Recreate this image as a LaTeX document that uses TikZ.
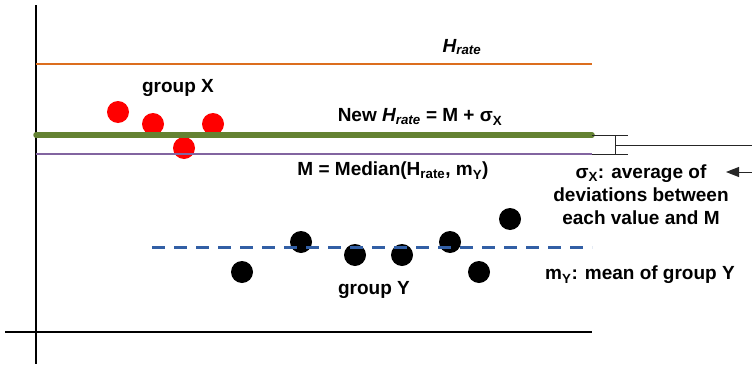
\documentclass[tikz,border=0pt]{standalone}
\usepackage{fontspec}
\setmainfont{Liberation Sans}
\usetikzlibrary{shapes.geometric,arrows.meta}
\definecolor{horange}{RGB}{220,110,30}
\definecolor{hgreen}{RGB}{100,130,50}
\definecolor{hpurple}{RGB}{130,100,160}
\definecolor{hblue}{RGB}{50,95,165}
\tikzset{
  lbl/.style={font=\fontsize{19}{22}\selectfont\bfseries, inner sep=0pt},
  reddot/.style={circle, fill=red, minimum size=22pt, inner sep=0pt},
  blackdot/.style={circle, fill=black, minimum size=22pt, inner sep=0pt},
  axis/.style={line width=1.4pt, black},
  brk/.style={line width=1pt, black!85}
}
\begin{document}
\begin{tikzpicture}[x=1pt,y=-1pt]
\useasboundingbox (0,0) rectangle (752,364);
% dots first (lines pass over them)
\node[reddot] (r1) at (118,112) {};
\node[reddot] (r2) at (153,124) {};
\node[reddot] (r3) at (213,124) {};
\node[reddot] (r4) at (184,148) {};
\node[blackdot] (k1) at (242,272) {};
\node[blackdot] (k2) at (301,242) {};
\node[blackdot] (k3) at (355,255) {};
\node[blackdot] (k4) at (402,255) {};
\node[blackdot] (k5) at (450,242) {};
\node[blackdot] (k6) at (479,272) {};
\node[blackdot] (k7) at (510,219) {};
% axes
\coordinate (vaT) at (36,5); \coordinate (vaB) at (36,364);
\coordinate (haL) at (5,332); \coordinate (haR) at (592,332);
\draw[axis] (vaT) -- (vaB);
\draw[axis] (haL) -- (haR);
% H_rate
\coordinate (hrL) at (36,64); \coordinate (hrR) at (592,64);
\draw[horange, line width=1.8pt] (hrL) -- (hrR);
\node[lbl] (hrlbl) at (462,47) {\itshape H\textsubscript{rate}};
% new Hrate (green) and median (purple)
\coordinate (gL) at (36,135); \coordinate (gR) at (592,135);
\coordinate (pL) at (36,154); \coordinate (pR) at (592,154);
\draw[hgreen, line width=5.5pt, line cap=round] (gL) -- (gR);
\draw[hpurple, line width=1.6pt] (pL) -- (pR);
\node[lbl] (newlbl) at (420,117) {New \textit{H\textsubscript{rate}} = M + σ\textsubscript{X}};
\node[lbl] (medlbl) at (393,171) {M = Median(H\textsubscript{rate}, m\textsubscript{Y})};
\node[lbl] (gx) at (178,88) {group X};
% bracket
\coordinate (b1) at (628,135); \coordinate (b2) at (628,154);
\coordinate (bv1) at (615,135); \coordinate (bv2) at (615,154);
\coordinate (bm) at (615,145); \coordinate (bE) at (752,145);
\draw[brk] (gR) -- (b1);
\draw[brk] (pR) -- (b2);
\draw[brk] (bv1) -- (bv2);
\draw[brk] (bm) -- (bE);
% sigma text
\node[lbl, align=center] (sig) at (641,195) {σ\textsubscript{X}: average of\\[1pt] deviations between\\[1pt] each value and M};
\coordinate (aS) at (752,172); \coordinate (aE) at (726,172);
\draw[brk, -{Triangle[length=13pt,width=10pt]}] (aS) -- (aE);
% mean of group Y
\coordinate (mL) at (152,247); \coordinate (mR) at (592,247);
\draw[hblue, line width=3pt, dash pattern=on 13pt off 9pt] (mL) -- (mR);
\node[lbl] (gy) at (374,290) {group Y};
\node[lbl] (mylbl) at (640,275) {m\textsubscript{Y}: mean of group Y};
\end{tikzpicture}
\end{document}
